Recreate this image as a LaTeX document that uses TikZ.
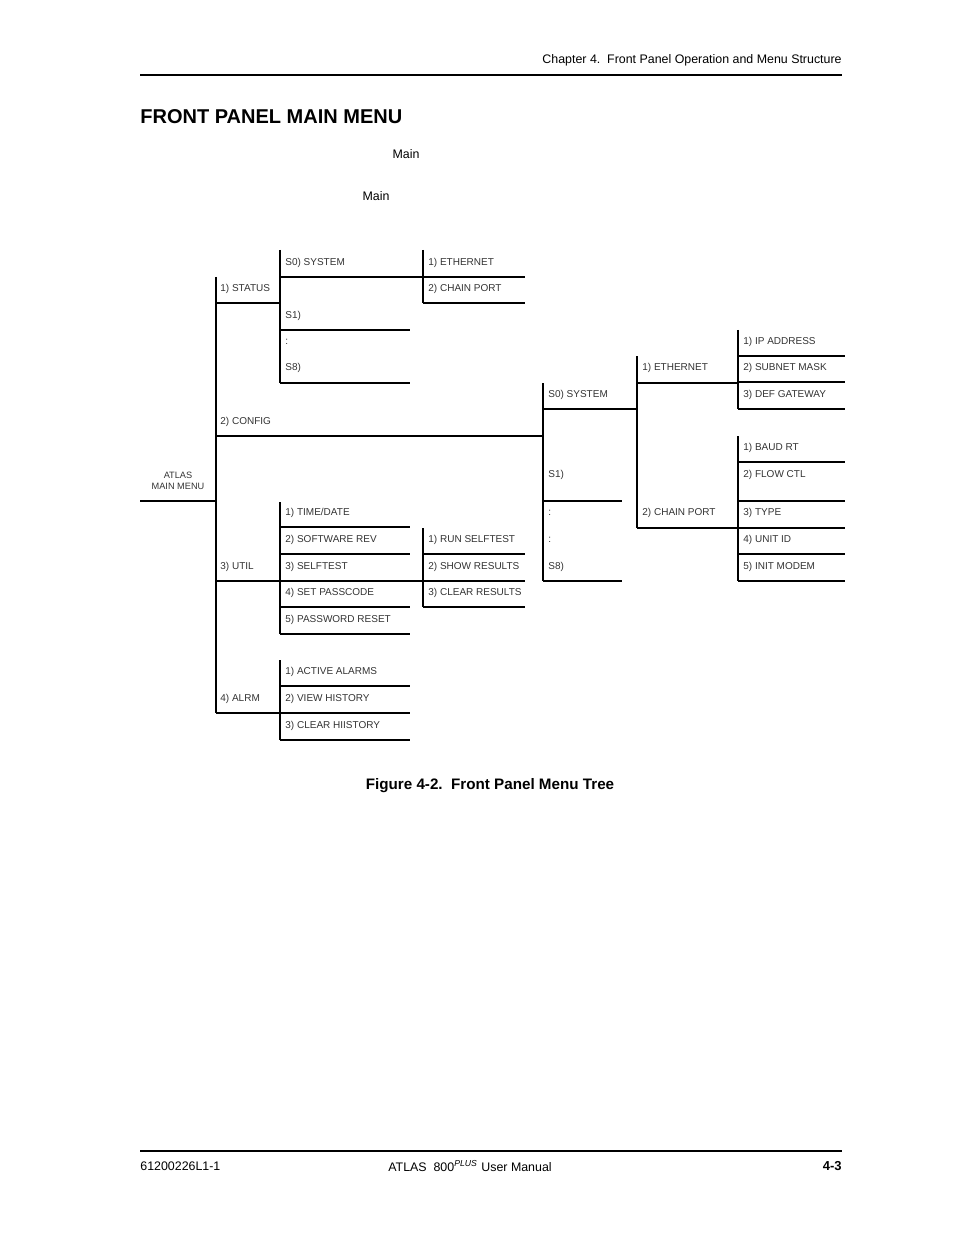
\documentclass[tikz,border=0pt]{standalone}
\usepackage{fontspec}
\setmainfont{Liberation Sans}
\begin{document}
\begin{tikzpicture}[x=0.5pt,y=-0.5pt,
  thin line/.style={line width=0.55pt},
  thick bar/.style={line width=1.1pt},
  lbl/.style={anchor=west,inner sep=0pt,font=\fontsize{5}{6}\selectfont,text=black!80},
  hdr/.style={inner sep=0pt,font=\fontsize{6.2}{7}\selectfont}]
\useasboundingbox (0,0) rectangle (954,1235);
% header / footer
\node[hdr,anchor=east] (hd) at (842,60) {Chapter 4.\ \ Front Panel Operation and Menu Structure};
\draw[line width=0.9pt] (140,75) -- (842,75);
\node[anchor=west,inner sep=0pt,font=\bfseries\fontsize{10}{12}\selectfont] (tt) at (140,117) {FRONT PANEL MAIN MENU};
\node[hdr] (m1) at (406,154) {Main};
\node[hdr] (m2) at (376,196) {Main};
\node[inner sep=0pt,font=\bfseries\fontsize{7.6}{9}\selectfont] (cap) at (490,786) {Figure 4-2.\ \ Front Panel Menu Tree};
\draw[line width=0.9pt] (140,1151) -- (842,1151);
\node[hdr,anchor=west] (f1) at (140,1166) {61200226L1-1};
\node[hdr] (f2) at (470,1166) {ATLAS\ \ 800\textsuperscript{\textit{PLUS}} User Manual};
\node[hdr,anchor=east,font=\bfseries\fontsize{6.5}{7}\selectfont] (f3) at (842,1166) {4-3};
% root
\node[inner sep=0pt,align=center,font=\fontsize{4.6}{5.8}\selectfont,text=black!80] (root) at (178,481) {ATLAS\\MAIN MENU};
\draw[thin line] (140,501) -- (216,501);
\draw[thin line] (216,277) -- (216,713);
\node[lbl] (a1) at (220,289) {1) STATUS};   \draw[thin line] (216,303) -- (280,303);
\node[lbl] (a2) at (220,422) {2) CONFIG};   \draw[thin line] (216,436) -- (543,436);
\node[lbl] (a3) at (220,567) {3) UTIL};     \draw[thin line] (216,581) -- (423,581);
\node[lbl] (a4) at (220,699) {4) ALRM};     \draw[thin line] (216,713) -- (280,713);
% status
\draw[thin line] (280,250) -- (280,383);
\node[lbl] at (285,263) {S0) SYSTEM}; \draw[thin line] (280,277) -- (423,277);
\node[lbl] at (285,316) {S1)};        \draw[thin line] (280,330) -- (410,330);
\node[lbl] at (285,342) {:};
\node[lbl] at (285,368) {S8)};        \draw[thin line] (280,383) -- (410,383);
\draw[thick bar] (423,250) -- (423,303);
\node[lbl] at (428,263) {1) ETHERNET};   \draw[thin line] (423,277) -- (525,277);
\node[lbl] at (428,289) {2) CHAIN PORT}; \draw[thin line] (423,303) -- (525,303);
% util
\draw[thin line] (280,502) -- (280,634);
\foreach \t/\y in {{1) TIME/DATE}/513,{2) SOFTWARE REV}/540,{3) SELFTEST}/567,{4) SET PASSCODE}/593,{5) PASSWORD RESET}/620}
  {\node[lbl] at (285,\y) {\t}; \draw[thin line] (280,\y+14) -- (410,\y+14);}
\draw[thick bar] (423,528) -- (423,607);
\foreach \t/\y in {{1) RUN SELFTEST}/540,{2) SHOW RESULTS}/567,{3) CLEAR RESULTS}/593}
  {\node[lbl] at (428,\y) {\t}; \draw[thin line] (423,\y+14) -- (525,\y+14);}
% alarm
\draw[thin line] (280,660) -- (280,740);
\foreach \t/\y in {{1) ACTIVE ALARMS}/672,{2) VIEW HISTORY}/699,{3) CLEAR HIISTORY}/726}
  {\node[lbl] at (285,\y) {\t}; \draw[thin line] (280,\y+14) -- (410,\y+14);}
% config
\draw[thick bar] (543,383) -- (543,581);
\node[lbl] at (548,395) {S0) SYSTEM}; \draw[thin line] (543,409) -- (637,409);
\node[lbl] at (548,475) {S1)};        \draw[thin line] (543,501) -- (622,501);
\node[lbl] at (548,513) {:};
\node[lbl] at (548,540) {:};
\node[lbl] at (548,567) {S8)};        \draw[thin line] (543,581) -- (622,581);
\draw[thick bar] (637,356) -- (637,528);
\node[lbl] at (642,368) {1) ETHERNET};   \draw[thin line] (637,383) -- (738,383);
\node[lbl] at (642,513) {2) CHAIN PORT}; \draw[thin line] (637,528) -- (738,528);
\draw[thick bar] (738,330) -- (738,409);
\foreach \t/\y in {{1) IP ADDRESS}/342,{2) SUBNET MASK}/368,{3) DEF GATEWAY}/395}
  {\node[lbl] at (743,\y) {\t}; \draw[thin line] (738,\y+14) -- (845,\y+14);}
\draw[thick bar] (738,436) -- (738,581);
\node[lbl] at (743,448) {1) BAUD RT};    \draw[thin line] (738,462) -- (845,462);
\node[lbl] at (743,475) {2) FLOW CTL};   \draw[thin line] (738,501) -- (845,501);
\node[lbl] at (743,513) {3) TYPE};       \draw[thin line] (738,528) -- (845,528);
\node[lbl] at (743,540) {4) UNIT ID};    \draw[thin line] (738,554) -- (845,554);
\node[lbl] at (743,567) {5) INIT MODEM}; \draw[thin line] (738,581) -- (845,581);
\end{tikzpicture}
\end{document}
